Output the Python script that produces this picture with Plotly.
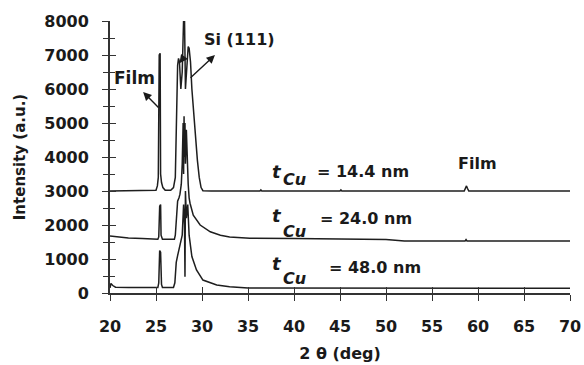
import plotly.graph_objects as go

# 2-theta (deg) and intensity (a.u.) for each Cu thickness
x_144 = [20, 22, 24, 25.0, 25.15, 25.25, 25.35, 25.45, 25.5, 25.6, 25.75, 26.0, 26.6, 26.9, 27.1, 27.25,
         27.35, 27.45, 27.55, 27.7, 27.85, 28.0, 28.1, 28.2, 28.35, 28.5, 28.6, 28.75, 28.9, 29.1, 29.3,
         29.5, 29.7, 29.9, 30.1, 31, 36.3, 36.4, 36.5, 45.0, 45.1, 45.2, 58.5, 58.65, 58.75, 58.85, 59.0, 70]
y_144 = [3000, 3000, 3010, 3020, 3150, 3400, 7000, 7050, 3500, 3250, 3100, 3020, 3020, 3100, 3400, 5500,
         6700, 6900, 6800, 6000, 6500, 8050, 8050, 6000, 6800, 7250, 7200, 6800, 6000, 5200, 4500,
         3900, 3400, 3100, 3010, 3000, 3000, 3030, 3000, 3000, 3030, 3000, 3000, 3080, 3150, 3080, 3000, 3000]

x_240 = [20, 21, 22, 23.5, 25.2, 25.3, 25.4, 25.5, 25.55, 25.7, 26.5, 27.0, 27.1, 27.2, 27.35, 27.5, 27.6,
         27.75, 27.85, 27.95, 28.0, 28.05, 28.1, 28.15, 28.2, 28.3, 28.4, 28.5, 28.6, 28.7, 29.05, 29.8,
         30.9, 32.0, 33.0, 35.2, 40, 46, 50, 52, 58.6, 58.7, 58.8, 70]
y_240 = [1680, 1640, 1620, 1600, 1580, 1650, 2550, 2600, 1700, 1580, 1570, 1580, 1700, 2200, 2700, 2800, 2900,
         3200, 3800, 5000, 3500, 5200, 4000, 5000, 3800, 4800, 3600, 3200, 2800, 2640, 2290, 2000,
         1800, 1700, 1650, 1610, 1600, 1590, 1570, 1530, 1530, 1570, 1530, 1530]

x_480 = [20, 20.1, 20.3, 20.6, 22, 25.2, 25.3, 25.4, 25.5, 25.6, 25.7, 26.9, 27.05, 27.2, 27.35, 27.5, 27.7,
         27.85, 28.0, 28.1, 28.15, 28.2, 28.3, 28.45, 28.6, 28.75, 28.9, 29.4, 30.1, 31.6, 33.0, 35, 70]
y_480 = [150, 280, 220, 170, 160, 160, 300, 1250, 1200, 250, 160, 160, 300, 900, 1100, 1300, 1500,
         1700, 2600, 2000, 480, 3000, 2200, 2600, 1700, 1300, 1070, 680, 380, 235, 185, 150, 140]

x_ticks = [20, 25, 30, 35, 40, 45, 50, 55, 60, 65, 70]
y_ticks = [0, 1000, 2000, 3000, 4000, 5000, 6000, 7000, 8000]

LINE = "#1e1e1e"
AX = "#333333"
FONT = "DejaVu Sans"

fig = go.Figure()
for xs, ys in [(x_144, y_144), (x_240, y_240), (x_480, y_480)]:
    fig.add_trace(go.Scatter(x=xs, y=ys, mode="lines", line=dict(color=LINE, width=1.5),
                             showlegend=False, hoverinfo="skip"))
# invisible trace to show inner tick marks (cross ticks)
fig.add_trace(go.Scatter(x=[None], y=[None], xaxis="x2", yaxis="y2", showlegend=False))

fig.update_layout(
    width=584, height=365,
    margin=dict(l=110, r=14, t=21, b=72),
    paper_bgcolor="white", plot_bgcolor="white",
    font=dict(family=FONT, size=16, color="#1a1a1a", weight="bold"),
    xaxis=dict(range=[20, 70], tickvals=x_ticks, ticks="outside", ticklen=6, tickwidth=1.2,
               tickcolor=AX, showline=True, linecolor=AX, linewidth=2, showgrid=False, zeroline=False,
               tickfont=dict(size=16), ticklabelstandoff=12, automargin=False,
               title=dict(text="2 θ (deg)", font=dict(size=16), standoff=13)),
    yaxis=dict(range=[0, 8000], tickvals=y_ticks, ticks="outside", ticklen=6, tickwidth=1.2,
               tickcolor=AX, showline=True, linecolor=AX, linewidth=2, showgrid=False, zeroline=False,
               minor=dict(dtick=500, ticks="outside", ticklen=5, tickcolor=AX),
               tickfont=dict(size=16), ticklabelstandoff=10, automargin=False,
               title=dict(text="Intensity (a.u.)", font=dict(size=15), standoff=15)),
    xaxis2=dict(range=[20, 70], overlaying="x", tickvals=x_ticks, ticks="inside", ticklen=6,
                tickwidth=1.2, tickcolor=AX, showticklabels=False, showgrid=False, zeroline=False,
                automargin=False),
    yaxis2=dict(range=[0, 8000], overlaying="y", tickvals=y_ticks, ticks="inside", ticklen=6,
                tickwidth=1.2, tickcolor=AX, showticklabels=False, showgrid=False, zeroline=False,
                minor=dict(dtick=500, ticks="inside", ticklen=5, tickcolor=AX), automargin=False),
)

def txt(x, y, s, size=16, xanchor="center", italic=False):
    if italic:
        s = "<i>" + s + "</i>"
    fig.add_annotation(x=x, y=y, text=s, showarrow=False, xanchor=xanchor, yanchor="middle",
                       font=dict(size=size, family=FONT, color="#1a1a1a", weight="bold"))

txt(22.7, 6320, "Film", size=17)
txt(30.0, 7470, "Si (111)", size=16, xanchor="left")
txt(59.9, 3820, "Film", size=16)

labels = [(3560, 3350, 3560, "= 14.4 nm", 42.3),
          (2290, 1820, 2180, "= 24.0 nm", 42.6),
          (880, 440, 760, "= 48.0 nm", 43.6)]
for yt, ysub, yl, s, xl in labels:
    txt(38.15, yt, "t", size=18, italic=True)
    txt(40.1, ysub, "Cu", size=16, italic=True)
    txt(xl, yl, s, size=16, xanchor="left")

def arrow(x0, y0, x1, y1):
    fig.add_annotation(x=x1, y=y1, ax=x0, ay=y0, axref="x", ayref="y", xref="x", yref="y",
                       text="", showarrow=True, arrowhead=2, arrowsize=1.2, arrowwidth=1.4,
                       arrowcolor="#1a1a1a")

arrow(25.43, 5410, 23.6, 5910)
arrow(28.59, 6290, 31.41, 7000)
arrow(28.04, 6940, 27.55, 6760)

fig.write_html("out.html", config={"displayModeBar": False},
               post_script="document.body.style.margin='0';document.body.style.overflow='hidden';")
